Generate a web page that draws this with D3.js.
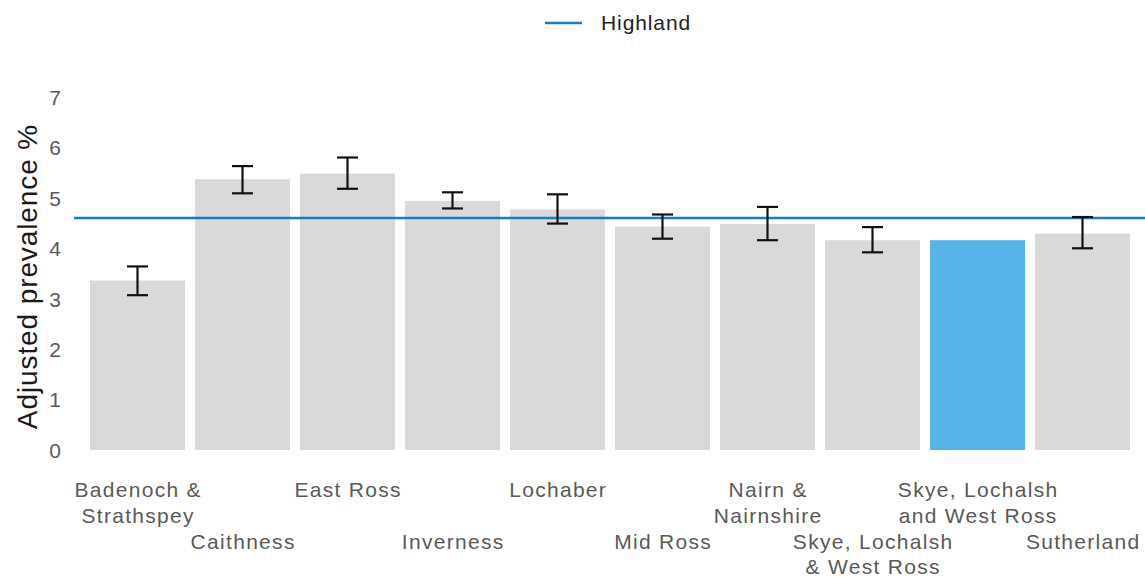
<!DOCTYPE html>
<html>
<head>
<meta charset="utf-8">
<script src="https://cdn.jsdelivr.net/npm/d3@7"></script>
<style>
  html, body { margin: 0; padding: 0; background: #fff; }
  svg { display: block; font-family: "Liberation Sans", Arial, sans-serif; }
</style>
</head>
<body>
<svg id="chart" width="1145" height="577"></svg>
<script>
const categories = [
  "Badenoch &\nStrathspey", "Caithness", "East Ross", "Inverness", "Lochaber",
  "Mid Ross", "Nairn &\nNairnshire", "Skye, Lochalsh\n& West Ross",
  "Skye, Lochalsh\nand West Ross", "Sutherland"
];
const values = [3.36, 5.37, 5.48, 4.94, 4.77, 4.43, 4.48, 4.16, 4.16, 4.29];
const lower  = [3.07, 5.09, 5.18, 4.79, 4.49, 4.19, 4.16, 3.92, null, 4.00];
const upper  = [3.64, 5.63, 5.80, 5.11, 5.07, 4.67, 4.82, 4.42, null, 4.62];
const highlighted = ["Skye, Lochalsh\nand West Ross"];
const highlandValue = 4.60;
const yTicks = [0, 1, 2, 3, 4, 5, 6, 7];
const legendLabel = "Highland";
const yTitle = "Adjusted prevalence %";

const svg = d3.select("#chart");
const x = d3.scaleBand().domain(categories).range([85, 1135]).paddingInner(0.095).paddingOuter(0.0475);
const y = d3.scaleLinear().domain([0, 7]).range([450, 97]);

const data = categories.map((c, i) => ({ c, v: values[i], lo: lower[i], hi: upper[i] }));

// bars
svg.append("g").selectAll("rect").data(data).join("rect")
  .attr("x", d => x(d.c))
  .attr("width", x.bandwidth())
  .attr("y", d => y(d.v))
  .attr("height", d => y(0) - y(d.v))
  .attr("fill", d => highlighted.includes(d.c) ? "#56b4e9" : "#d9d9d9");

// Highland line
svg.append("line")
  .attr("x1", 74).attr("x2", 1145)
  .attr("y1", y(highlandValue)).attr("y2", y(highlandValue))
  .attr("stroke", "#1c7bbd").attr("stroke-width", 2.5);

// error bars
const eb = svg.append("g").attr("stroke", "#111").attr("stroke-width", 2.2).attr("fill", "none");
data.filter(d => d.lo !== null).forEach(d => {
  const cx = x(d.c) + x.bandwidth() / 2;
  eb.append("line").attr("x1", cx).attr("x2", cx).attr("y1", y(d.hi)).attr("y2", y(d.lo));
  eb.append("line").attr("x1", cx - 10.5).attr("x2", cx + 10.5).attr("y1", y(d.hi)).attr("y2", y(d.hi));
  eb.append("line").attr("x1", cx - 10.5).attr("x2", cx + 10.5).attr("y1", y(d.lo)).attr("y2", y(d.lo));
});

// y axis
const yAxis = svg.append("g").attr("transform", "translate(61,0)")
  .call(d3.axisLeft(y).tickValues(yTicks).tickSize(0).tickPadding(0).tickFormat(d3.format("d")));
yAxis.select(".domain").remove();
yAxis.selectAll("text")
  .attr("fill", "#595959").style("font-size", "21px").style("font-family", "'Liberation Sans', Arial, sans-serif")
  .attr("dy", "0.35em");

// x axis
const xAxis = svg.append("g").attr("transform", "translate(0,450)")
  .call(d3.axisBottom(x).tickSize(0).tickFormat(""));
xAxis.select(".domain").remove();
xAxis.selectAll(".tick").each(function(d, i) {
  const lines = d.split("\n");
  const baseY = (i % 2 === 0) ? 47 : 98.5;
  const t = d3.select(this).append("text")
    .attr("fill", "#595959")
    .attr("text-anchor", "middle")
    .style("font-size", "21px")
    .style("letter-spacing", "1.3px")
    .style("font-family", "'Liberation Sans', Arial, sans-serif");
  lines.forEach((ln, k) => {
    t.append("tspan").attr("x", 0.65).attr("y", baseY + k * 25.5).text(ln);
  });
});

// y title
svg.append("text")
  .attr("transform", `translate(37,${(y(0) + y(7)) / 2 + 3}) rotate(-90)`)
  .attr("text-anchor", "middle")
  .attr("fill", "#1a1a1a")
  .style("font-size", "28px")
  .style("letter-spacing", "0.9px")
  .text(yTitle);

// legend
const lg = svg.append("g");
lg.append("line").attr("x1", 545).attr("x2", 582).attr("y1", 23).attr("y2", 23)
  .attr("stroke", "#1c7bbd").attr("stroke-width", 2.5);
lg.append("text").attr("x", 601).attr("y", 23).attr("dy", "0.35em")
  .attr("fill", "#222").style("font-size", "21px").style("letter-spacing", "0.9px")
  .text(legendLabel);
</script>
</body>
</html>
